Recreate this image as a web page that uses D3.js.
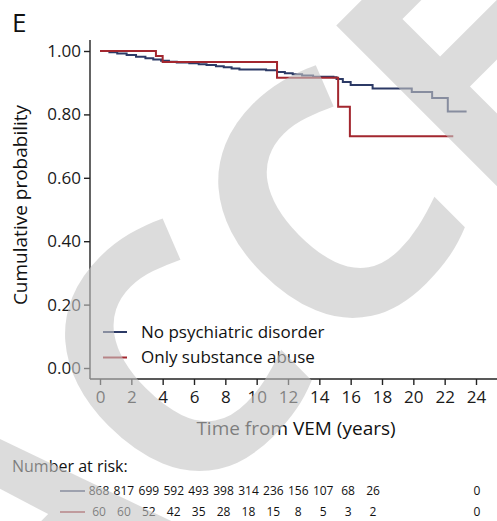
<!DOCTYPE html>
<html>
<head>
<meta charset="utf-8">
<script src="https://cdn.jsdelivr.net/npm/d3@7"></script>
<style>
  body { margin: 0; background: #fff; }
  svg text { font-family: "Open Sans", sans-serif; }
</style>
</head>
<body>
<div id="chart"></div>
<script>
// KM curves (time in years, cumulative probability)
const noPsychTimes = [0, 0.6, 1.1, 1.7, 2.3, 2.9, 3.4, 3.9, 4.4, 4.9, 5.7, 6.3, 6.8, 7.4, 7.9, 8.4, 8.9, 10.6, 11.3, 11.8, 12.3, 12.9, 13.6, 14.9, 15.1, 15.5, 16.0, 17.4, 19.9, 21.2, 22.2, 23.4];
const noPsychSurv  = [1.0, 0.996, 0.992, 0.987, 0.982, 0.977, 0.973, 0.969, 0.966, 0.964, 0.961, 0.958, 0.956, 0.952, 0.949, 0.945, 0.942, 0.939, 0.934, 0.930, 0.927, 0.923, 0.919, 0.917, 0.912, 0.902, 0.893, 0.882, 0.871, 0.852, 0.809, 0.809];
const substTimes = [0, 3.57, 4.0, 11.3, 15.2, 15.95, 22.55];
const substSurv  = [1.0, 0.984, 0.965, 0.916, 0.824, 0.731, 0.731];

const seriesNames = ["No psychiatric disorder", "Only substance abuse"];
const seriesColors = ["#2c3a66", "#a3272f"];

const xTicks = [0, 2, 4, 6, 8, 10, 12, 14, 16, 18, 20, 22, 24];
const yTicks = [0, 0.2, 0.4, 0.6, 0.8, 1.0];

// number at risk table
const riskNoPsych = [868, 817, 699, 592, 493, 398, 314, 236, 156, 107, 68, 26, 0];
const riskSubst   = [60, 60, 52, 42, 35, 28, 18, 15, 8, 5, 3, 2, 0];

const W = 497, H = 521;
const svg = d3.select("#chart").append("svg")
    .attr("width", W).attr("height", H);

const x = d3.scaleLinear().domain([0, 24]).range([100, 476]);
const y = d3.scaleLinear().domain([0, 1]).range([368, 51]);

// axes
const yAxis = svg.append("g")
    .attr("transform", "translate(90,0)")
    .call(d3.axisLeft(y).tickValues(yTicks).tickFormat(d3.format(".2f")).tickSize(6).tickPadding(3).tickSizeOuter(0));
yAxis.select(".domain").attr("d", "M0,40V379");
const xAxis = svg.append("g")
    .attr("transform", "translate(0,379)")
    .call(d3.axisBottom(x).tickValues(xTicks).tickSize(6).tickPadding(6).tickSizeOuter(0));
xAxis.select(".domain").attr("d", "M90,0H497");
svg.selectAll(".tick text").attr("font-size", 17).attr("fill", "#1a1a1a").attr("font-family", "Open Sans");
svg.selectAll(".domain, .tick line").attr("stroke", "#222").attr("stroke-width", 1.4);

svg.append("text").attr("x", 296).attr("y", 435).attr("text-anchor", "middle")
    .attr("font-size", 19).attr("fill", "#111").text("Time from VEM (years)");
svg.append("text").attr("transform", "translate(27,205) rotate(-90)").attr("text-anchor", "middle")
    .attr("font-size", 19).attr("fill", "#111").text("Cumulative probability");
svg.append("text").attr("x", 12).attr("y", 32).attr("font-size", 26).attr("fill", "#111").text("E");

// curves
const stepLine = d3.line().curve(d3.curveStepAfter).x(d => x(d[0])).y(d => y(d[1]));
const curves = [d3.zip(noPsychTimes, noPsychSurv), d3.zip(substTimes, substSurv)];
svg.selectAll(".km").data(curves).join("path")
    .attr("class", "km")
    .attr("d", stepLine)
    .attr("fill", "none")
    .attr("stroke", (d, i) => seriesColors[i])
    .attr("stroke-width", 2);

// legend
const leg = svg.append("g");
seriesNames.forEach((name, i) => {
  const ly = 332 + i * 25.5;
  leg.append("line").attr("x1", 103).attr("x2", 127).attr("y1", ly).attr("y2", ly)
      .attr("stroke", seriesColors[i]).attr("stroke-width", 2);
  leg.append("text").attr("x", 141).attr("y", ly + 5.5).attr("font-size", 17).attr("fill", "#111").text(name);
});

// number at risk
svg.append("text").attr("x", 12).attr("y", 472).attr("font-size", 16).attr("fill", "#111").text("Number at risk:");
const col = d3.scalePoint().domain(d3.range(12)).range([99, 373]);
const colX = i => i < 12 ? col(i) : x(24) + 1;
[riskNoPsych, riskSubst].forEach((row, r) => {
  const ry = 495 + r * 21;
  svg.append("line").attr("x1", 60).attr("x2", 85).attr("y1", ry - 4).attr("y2", ry - 4)
      .attr("stroke", seriesColors[r]).attr("stroke-width", 1.5);
  svg.selectAll(".risk" + r).data(row).join("text")
      .attr("class", "risk" + r)
      .attr("x", (d, i) => colX(i)).attr("y", ry)
      .attr("text-anchor", "middle").attr("font-size", 12).attr("fill", "#111")
      .text(d => d);
});

// "ACCEPTED" watermark laid over the figure
svg.append("text")
    .attr("transform", "translate(14,691) rotate(-45)")
    .attr("font-family", "Liberation Sans").attr("font-size", 340).attr("font-weight", 700)
    .attr("fill", "#c4c4c4").attr("fill-opacity", 0.6)
    .text("ACCEPTED");
</script>
</body>
</html>
